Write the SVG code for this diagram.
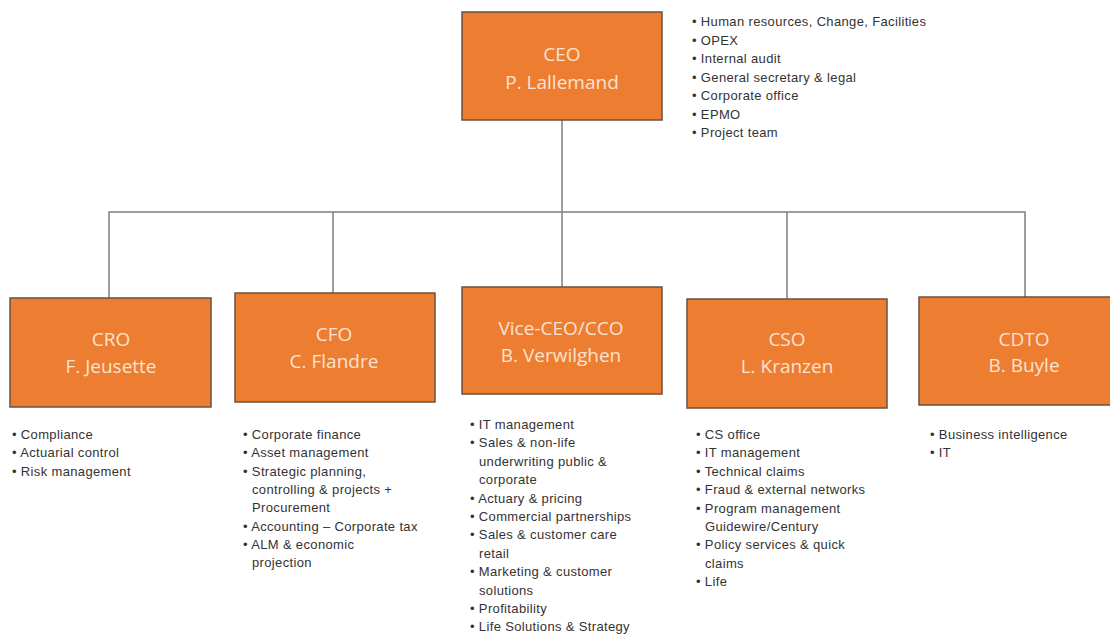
<svg xmlns="http://www.w3.org/2000/svg" width="1110" height="637" viewBox="0 0 1110 637">
<style>
.box{fill:#ED7D31;stroke:#6b5040;stroke-width:1.5}
.t{font-family:"Open Sans","Liberation Sans",sans-serif;font-size:19px;fill:#fbe3d2;text-anchor:middle}
.l{font-family:"Liberation Sans",sans-serif;font-size:13px;letter-spacing:0.35px;fill:#333}
.c{stroke:#7f7f7f;stroke-width:1.5;fill:none}
</style>
<rect width="1110" height="637" fill="#fff"/>
<g id="connectors">
<path class="c" d="M562 120V287M109 298V212H1025V297M333 212V293M787 212V299"/>
</g>
<g id="ceo">
<rect class="box" x="462" y="12" width="200" height="108"/>
<text class="t" x="562" y="61">CEO</text>
<text class="t" x="562" y="89">P. Lallemand</text>
<text class="l"><tspan x="692" y="26">• Human resources, Change, Facilities</tspan><tspan x="692" y="44.5">• OPEX</tspan><tspan x="692" y="63">• Internal audit</tspan><tspan x="692" y="81.5">• General secretary &amp; legal</tspan><tspan x="692" y="100">• Corporate office</tspan><tspan x="692" y="118.5">• EPMO</tspan><tspan x="692" y="137">• Project team</tspan></text>
</g>
<g id="cro">
<rect class="box" x="10" y="298" width="201" height="109"/>
<text class="t" x="111" y="346">CRO</text>
<text class="t" x="111" y="373">F. Jeusette</text>
<text class="l"><tspan x="12" y="439">• Compliance</tspan><tspan x="12" y="457.3">• Actuarial control</tspan><tspan x="12" y="475.6">• Risk management</tspan></text>
</g>
<g id="cfo">
<rect class="box" x="235" y="293" width="200" height="109"/>
<text class="t" x="334" y="341">CFO</text>
<text class="t" x="334" y="368">C. Flandre</text>
<text class="l"><tspan x="243" y="439">• Corporate finance</tspan><tspan x="243" y="457.3">• Asset management</tspan><tspan x="243" y="475.6">• Strategic planning,</tspan><tspan x="252" y="494">controlling &amp; projects +</tspan><tspan x="252" y="512.3">Procurement</tspan><tspan x="243" y="530.6">• Accounting – Corporate tax</tspan><tspan x="243" y="549">• ALM &amp; economic</tspan><tspan x="252" y="567.3">projection</tspan></text>
</g>
<g id="vice-ceo">
<rect class="box" x="462" y="287" width="200" height="107"/>
<text class="t" x="561" y="335">Vice-CEO/CCO</text>
<text class="t" x="561" y="362">B. Verwilghen</text>
<text class="l"><tspan x="470" y="429">• IT management</tspan><tspan x="470" y="447.4">• Sales &amp; non-life</tspan><tspan x="479" y="465.8">underwriting public &amp;</tspan><tspan x="479" y="484.2">corporate</tspan><tspan x="470" y="502.6">• Actuary &amp; pricing</tspan><tspan x="470" y="521">• Commercial partnerships</tspan><tspan x="470" y="539.4">• Sales &amp; customer care</tspan><tspan x="479" y="557.8">retail</tspan><tspan x="470" y="576.2">• Marketing &amp; customer</tspan><tspan x="479" y="594.6">solutions</tspan><tspan x="470" y="613">• Profitability</tspan><tspan x="470" y="631.4">• Life Solutions &amp; Strategy</tspan></text>
</g>
<g id="cso">
<rect class="box" x="687" y="299" width="200" height="109"/>
<text class="t" x="787" y="346">CSO</text>
<text class="t" x="787" y="373">L. Kranzen</text>
<text class="l"><tspan x="696" y="439">• CS office</tspan><tspan x="696" y="457.4">• IT management</tspan><tspan x="696" y="475.8">• Technical claims</tspan><tspan x="696" y="494.2">• Fraud &amp; external networks</tspan><tspan x="696" y="512.6">• Program management</tspan><tspan x="705" y="531">Guidewire/Century</tspan><tspan x="696" y="549.4">• Policy services &amp; quick</tspan><tspan x="705" y="567.8">claims</tspan><tspan x="696" y="586.2">• Life</tspan></text>
</g>
<g id="cdto">
<rect class="box" x="919" y="297" width="200" height="108"/>
<text class="t" x="1024" y="346">CDTO</text>
<text class="t" x="1024" y="372">B. Buyle</text>
<text class="l"><tspan x="930" y="439">• Business intelligence</tspan><tspan x="930" y="457.4">• IT</tspan></text>
</g>
</svg>
